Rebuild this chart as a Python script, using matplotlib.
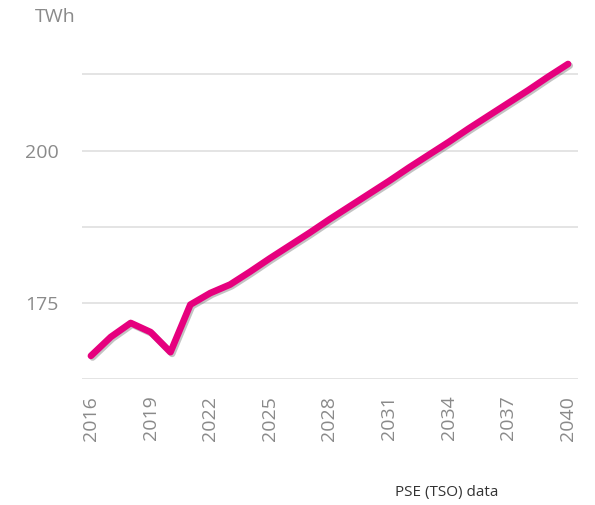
import matplotlib
matplotlib.use('Agg')
import matplotlib.pyplot as plt
import matplotlib.patheffects as pe

years = list(range(2016, 2041))
demand = [166.3, 169.4, 171.7, 170.2, 166.9, 174.7, 176.6, 178.0,
          180.1, 182.3, 184.4, 186.5, 188.7, 190.8, 192.9, 195.0,
          197.2, 199.3, 201.4, 203.6, 205.7, 207.8, 209.9, 212.1, 214.2]
xticks = list(range(2016, 2041, 3))
grid_levels = [162.5, 175, 187.5, 200, 212.5]
ytick_labels = {175: '175', 200: '200'}

plt.rcParams['font.family'] = ['Open Sans', 'DejaVu Sans']

fig = plt.figure(figsize=(5.95, 5.05), dpi=100)
ax = fig.add_axes([0.1378, 0.2495, 0.8336, 0.6455])

for g in grid_levels:
    ax.axhline(g, color='#e4e4e4', lw=1.4, zorder=1)

ax.plot(years, demand, color='#e6007e', lw=4.8, solid_capstyle='round',
        solid_joinstyle='round', zorder=3,
        path_effects=[pe.SimpleLineShadow(offset=(1.2, -1.2), shadow_color='#555555', alpha=0.35),
                      pe.Normal()])

ax.set_xlim(2015.55, 2040.5)
ax.set_ylim(162.5, 216)

ax.set_xticks(xticks)
ax.set_xticklabels([str(x) for x in xticks], rotation=90, fontsize=14, color='#8a8a8a')
ax.set_yticks(list(ytick_labels.keys()))
ax.set_yticklabels(list(ytick_labels.values()), fontsize=14, color='#8a8a8a')
ax.tick_params(axis='both', length=0)
ax.tick_params(axis='y', pad=17)
ax.tick_params(axis='x', pad=12)

for s in ax.spines.values():
    s.set_visible(False)

fig.text(0.059, 0.967, 'TWh', fontsize=14, color='#8a8a8a', va='center', ha='left')
fig.text(0.664, 0.024, 'PSE (TSO) data', fontsize=11, color='#333333', va='center', ha='left')

fig.savefig('out.png', dpi=100)
